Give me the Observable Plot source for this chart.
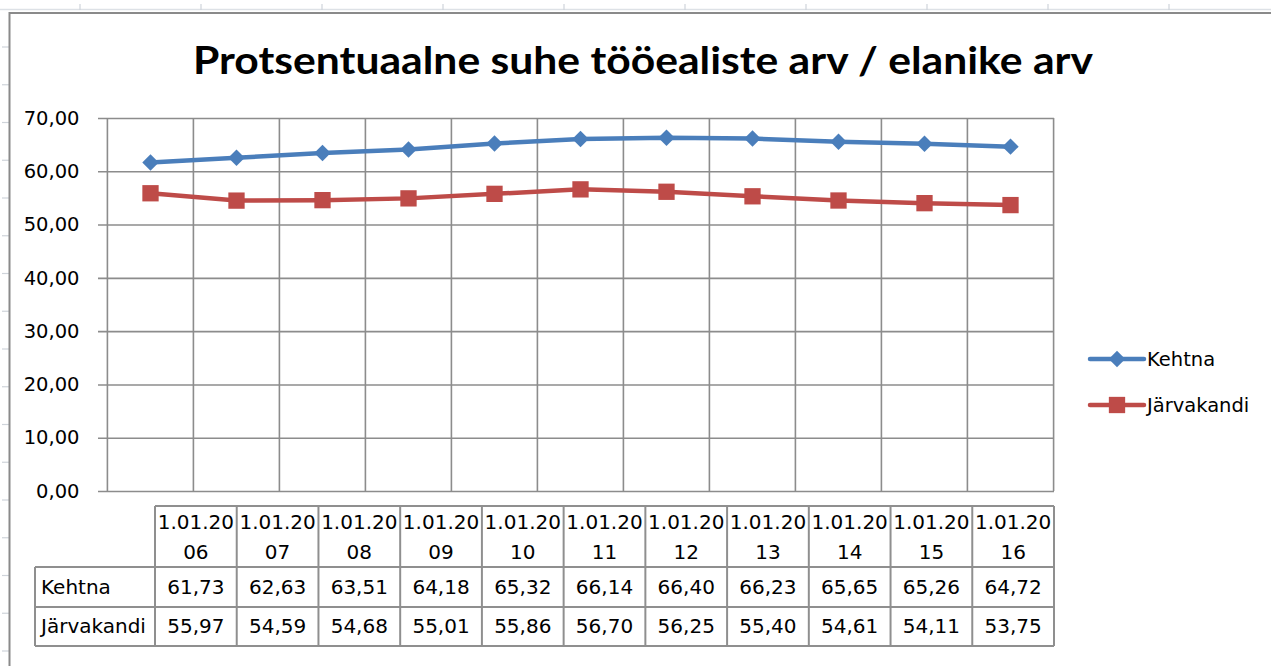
<!DOCTYPE html>
<html><head><meta charset="utf-8">
<script src="https://cdn.jsdelivr.net/npm/d3@7"></script>
<script src="https://cdn.jsdelivr.net/npm/@observablehq/plot@0.6"></script>
<style>
html,body{margin:0;padding:0;background:#fff;}
#wrap{position:relative;width:1271px;height:666px;overflow:hidden;background:#fff;font-family:"DejaVu Sans",sans-serif;color:#000;}
#wrap svg{position:absolute;left:0;top:0;}
</style></head><body><div id="wrap"></div>
<script>
// ---- data ----
const title = "Protsentuaalne suhe tööealiste arv / elanike arv";
const categories = ["1.01.2006","1.01.2007","1.01.2008","1.01.2009","1.01.2010","1.01.2011","1.01.2012","1.01.2013","1.01.2014","1.01.2015","1.01.2016"];
const kehtna = [61.73,62.63,63.51,64.18,65.32,66.14,66.40,66.23,65.65,65.26,64.72];
const jarvakandi = [55.97,54.59,54.68,55.01,55.86,56.70,56.25,55.40,54.61,54.11,53.75];
const seriesNames = ["Kehtna","Järvakandi"];
const yTicks = [0,10,20,30,40,50,60,70];

// ---- style ----
const W = 1271, H = 666;
const mL = 106, mR = 217, mT = 118, mB = 175;
const blue = "#4a7ebb", red = "#be4b48", grid = "#8c8c8c";
const fmt = v => v.toFixed(2).replace(".", ",");
const half = (W - mL - mR) / categories.length / 2;

const series = [
  {name: seriesNames[0], values: kehtna, color: blue, symbol: "diamond2", r: 7.4},
  {name: seriesNames[1], values: jarvakandi, color: red, symbol: "square", r: 9.2}
];
const rowsOf = s => categories.map((c, i) => ({date: c, value: s.values[i]}));

const wrap = document.getElementById("wrap");

const chart = Plot.plot({
  width: W, height: H,
  marginLeft: mL, marginRight: mR, marginTop: mT, marginBottom: mB,
  x: {type: "point", domain: categories, padding: 0.5, axis: null},
  y: {domain: [0, 70], axis: null},
  style: {fontFamily: "DejaVu Sans", fontSize: "19.5px", background: "transparent", overflow: "visible", color: "#000"},
  marks: [
    Plot.ruleY(yTicks, {stroke: grid, strokeWidth: 1.6, insetLeft: -8}),
    Plot.ruleX(categories, {dx: -half, stroke: grid, strokeWidth: 1.6}),
    Plot.ruleX([categories[categories.length - 1]], {dx: half, stroke: grid, strokeWidth: 1.6}),
    Plot.axisY(yTicks, {tickSize: 0, tickPadding: 27, tickFormat: fmt, fontSize: 19.5, fill: "#000", label: null}),
    ...series.flatMap(s => [
      Plot.line(rowsOf(s), {x: "date", y: "value", stroke: s.color, strokeWidth: 4.5, strokeLinejoin: "round", strokeLinecap: "round"}),
      Plot.dot(rowsOf(s), {x: "date", y: "value", symbol: s.symbol, r: s.r, fill: s.color, stroke: "none"})
    ])
  ]
});
wrap.appendChild(chart);

// ---- overlay: sheet, frame, title, legend, data table ----
const svg = d3.select(wrap).append("svg").attr("width", W).attr("height", H)
  .style("pointer-events", "none").attr("font-family", "DejaVu Sans");

// spreadsheet background lines
svg.append("line").attr("x1", 0).attr("x2", W).attr("y1", 9.5).attr("y2", 9.5).attr("stroke", "#dde1e6").attr("stroke-width", 1.5);
for (let k = 0; k < 10; k++) {
  const x = 80 + 121 * k;
  svg.append("line").attr("x1", x).attr("x2", x).attr("y1", 4).attr("y2", 10).attr("stroke", "#cfd4da").attr("stroke-width", 1.2);
}
for (let k = 0; k < 17; k++) {
  const y = 47 + 37.75 * k;
  svg.append("line").attr("x1", 2).attr("x2", 9).attr("y1", y).attr("y2", y).attr("stroke", "#cfd4da").attr("stroke-width", 1.2);
}
// chart frame
svg.append("path").attr("d", `M9.5,${H}V13H${W}`).attr("fill", "none").attr("stroke", "#8a8a8a").attr("stroke-width", 2);

// title
svg.append("text").attr("x", 643).attr("y", 74).attr("text-anchor", "middle")
  .attr("font-family", "Lato, 'Open Sans', sans-serif").attr("font-weight", "bold").attr("font-size", 38)
  .attr("textLength", 900).attr("lengthAdjust", "spacingAndGlyphs").attr("fill", "#000").text(title);

// legend
const symPath = (s, r) => d3.symbol(s.symbol === "square" ? d3.symbolSquare : d3.symbolDiamond2, Math.PI * r * r)();
series.forEach((s, i) => {
  const y = 359 + i * 46;
  const g = svg.append("g");
  g.append("line").attr("x1", 1090).attr("x2", 1144).attr("y1", y).attr("y2", y).attr("stroke", s.color).attr("stroke-width", 4.5).attr("stroke-linecap", "round");
  g.append("path").attr("d", symPath(s, s.r)).attr("transform", `translate(1117,${y})`).attr("fill", s.color);
  g.append("text").attr("x", 1147).attr("y", y + 7).attr("font-size", 19.5).attr("fill", "#000").text(s.name);
});

// data table
const tL = 35, tC = 155, tR = 1054;
const colW = (tR - tC) / categories.length;
const rowY = [506, 567, 607, 646];
const tg = svg.append("g").attr("stroke", "#8f8f8f").attr("stroke-width", 2);
tg.append("line").attr("x1", tC).attr("x2", tR).attr("y1", rowY[0]).attr("y2", rowY[0]);
rowY.slice(1).forEach(y => tg.append("line").attr("x1", tL).attr("x2", tR).attr("y1", y).attr("y2", y));
tg.append("line").attr("x1", tL).attr("x2", tL).attr("y1", rowY[1]).attr("y2", rowY[3]);
for (let k = 0; k <= categories.length; k++) {
  const x = tC + k * colW;
  tg.append("line").attr("x1", x).attr("x2", x).attr("y1", rowY[0]).attr("y2", rowY[3]);
}
const tt = svg.append("g").attr("font-size", 20).attr("fill", "#000");
categories.forEach((c, i) => {
  const cx = tC + (i + 0.5) * colW;
  tt.append("text").attr("x", cx).attr("y", 529).attr("text-anchor", "middle").text(c.slice(0, 7));
  tt.append("text").attr("x", cx).attr("y", 559).attr("text-anchor", "middle").text(c.slice(7));
  series.forEach((s, j) => {
    tt.append("text").attr("x", cx).attr("y", 594 + j * 39).attr("text-anchor", "middle").text(fmt(s.values[i]));
  });
});
series.forEach((s, j) => {
  tt.append("text").attr("x", 41).attr("y", 594 + j * 39).text(s.name);
});
</script>
</body></html>
